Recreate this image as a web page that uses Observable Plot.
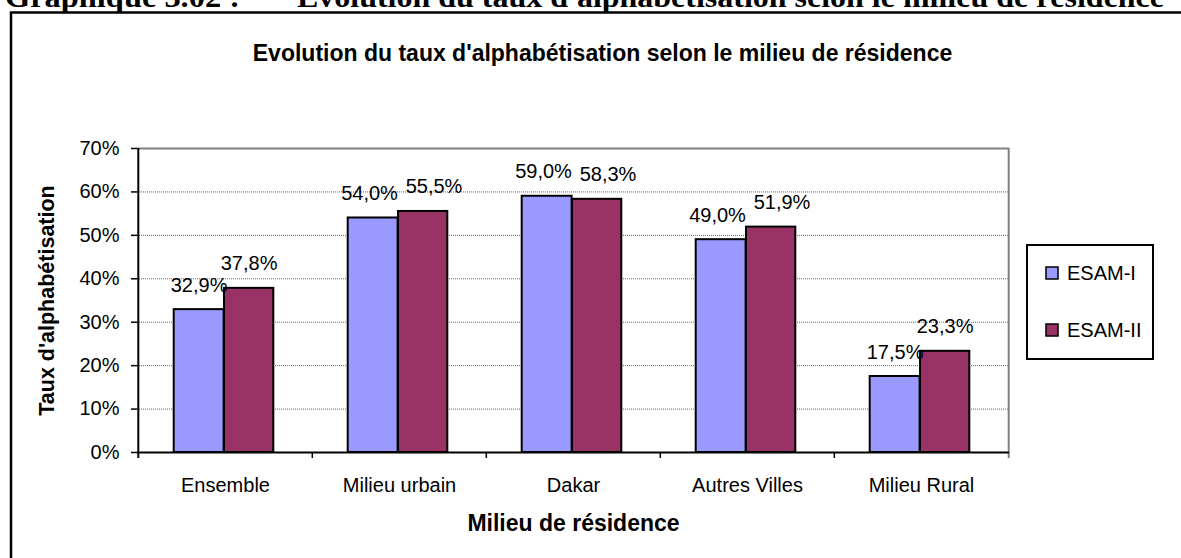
<!DOCTYPE html>
<html>
<head>
<meta charset="utf-8">
<script src="https://cdn.jsdelivr.net/npm/d3@7"></script>
<script src="https://cdn.jsdelivr.net/npm/@observablehq/plot@0.6"></script>
<style>
  html, body { margin: 0; padding: 0; background: #fff; }
  #chart svg { display: block; }
</style>
</head>
<body>
<div id="chart"></div>
<script>
// ---- data ----
const categories = ["Ensemble", "Milieu urbain", "Dakar", "Autres Villes", "Milieu Rural"];
const series = ["ESAM-I", "ESAM-II"];
const esam1 = [32.9, 54.0, 59.0, 49.0, 17.5];
const esam2 = [37.8, 55.5, 58.3, 51.9, 23.3];
const yTicks = [0, 10, 20, 30, 40, 50, 60, 70];
const colors = ["#9999FF", "#993366"];
const headerLabel = "Graphique 3.02 :";
const headerText = "Evolution du taux d'alphabétisation selon le milieu de résidence";
const chartTitle = "Evolution du taux d'alphabétisation selon le milieu de résidence";
const yTitle = "Taux d'alphabétisation";
const xTitle = "Milieu de résidence";

const data = categories.flatMap((c, i) => [
  {cat: c, series: series[0], v: esam1[i], close: Math.abs(esam1[i] - esam2[i]) < 4},
  {cat: c, series: series[1], v: esam2[i], close: Math.abs(esam1[i] - esam2[i]) < 4}
]);
const fmt = v => v.toFixed(1).replace(".", ",") + "%";

// ---- layout ----
const W = 1181, H = 558;
const mL = 137, mR = 172, mT = 148, mB = 106;
const bw = (W - mL - mR) / categories.length;
const font = "'Liberation Sans', Arial, Helvetica, sans-serif";

const s0 = data.filter(d => d.series === series[0]);
const s1 = data.filter(d => d.series === series[1]);
// labels of bars of similar height are nudged apart (as the spreadsheet does)
const labelStyle = {x: "cat", y: "v", text: d => fmt(d.v), dy: -18, lineAnchor: "bottom", fontSize: 20, fill: "black"};

const chart = Plot.plot({
  width: W, height: H,
  marginLeft: mL, marginRight: mR, marginTop: mT, marginBottom: mB,
  style: {fontFamily: font, fontSize: "20px", background: "white", color: "black", overflow: "visible"},
  x: {domain: categories, padding: 0, label: null},
  y: {domain: [0, 70], label: null},
  color: {domain: series, range: colors},
  marks: [
    // dotted gridlines
    Plot.ruleY(yTicks.filter(t => t > 0 && t < 70), {stroke: "#666", strokeWidth: 1, strokeDasharray: "1,1"}),
    // plot-area top/right border (gray)
    Plot.ruleY([70], {stroke: "#808080", strokeWidth: 2}),
    Plot.ruleX([categories[categories.length - 1]], {dx: bw / 2, y1: 0, y2: 70, insetTop: 6, stroke: "#808080", strokeWidth: 2}),
    // bars
    Plot.barY(s0, {x: "cat", y: "v", fill: "series", stroke: "black", strokeWidth: 2, insetLeft: 35.7, insetRight: bw - 86}),
    Plot.barY(s1, {x: "cat", y: "v", fill: "series", stroke: "black", strokeWidth: 2, insetLeft: 86, insetRight: bw - 135.7}),
    // axes lines
    Plot.ruleY([0], {stroke: "black", strokeWidth: 2}),
    Plot.ruleX([categories[0]], {dx: -bw / 2, y1: 0, y2: 70, insetTop: 6, stroke: "black", strokeWidth: 2}),
    // category boundary ticks
    Plot.ruleX(categories.slice(1), {dx: -bw / 2, y1: 0, y2: 0, insetTop: 6, stroke: "black", strokeWidth: 1.5}),
    Plot.axisY({ticks: yTicks, tickFormat: d => d + "%", tickSize: 6, tickPadding: 12, fontSize: 20, label: null, strokeWidth: 1.5}),
    Plot.axisX({tickSize: 0, tickPadding: 25, fontSize: 20, label: null}),
    // value labels
    Plot.text(s0.filter(d => !d.close), {...labelStyle, dx: -26.4}),
    Plot.text(s0.filter(d => d.close), {...labelStyle, dx: -30}),
    Plot.text(s1.filter(d => !d.close), {...labelStyle, dx: 23.6}),
    Plot.text(s1.filter(d => d.close), {...labelStyle, dx: 34.5}),
    // titles
    Plot.text([chartTitle], {text: d => d, frameAnchor: "top", textAnchor: "middle", dx: 29, dy: -95, lineAnchor: "middle", fontSize: 23, fontWeight: "bold", fill: "black"}),
    Plot.text([yTitle], {text: d => d, frameAnchor: "left", textAnchor: "middle", dx: -90, rotate: -90, lineAnchor: "middle", fontSize: 21.5, fontWeight: "bold", fill: "black"}),
    Plot.text([xTitle], {text: d => d, frameAnchor: "bottom", textAnchor: "middle", dy: 71, lineAnchor: "middle", fontSize: 23, fontWeight: "bold", fill: "black"})
  ]
});

document.getElementById("chart").appendChild(chart);

// ---- decorations: outer frame, page header, legend ----
const svg = d3.select(chart);
svg.append("path")
  .attr("d", `M11,${H + 10}V12.5H${W + 10}`)
  .attr("fill", "none").attr("stroke", "black").attr("stroke-width", 2.5);

const serif = "'Liberation Serif', 'Times New Roman', serif";
svg.append("text").text(headerLabel)
  .attr("x", 5).attr("y", 7).attr("text-anchor", "start")
  .attr("font-family", serif).attr("font-weight", "bold").attr("font-size", 30)
  .attr("textLength", 235).attr("lengthAdjust", "spacingAndGlyphs");
svg.append("text").text(headerText)
  .attr("x", 297).attr("y", 7).attr("text-anchor", "start")
  .attr("font-family", serif).attr("font-weight", "bold").attr("font-size", 30)
  .attr("textLength", 867).attr("lengthAdjust", "spacingAndGlyphs");

const color = chart.scale("color");
const leg = svg.append("g");
leg.append("rect")
  .attr("x", 1027).attr("y", 245).attr("width", 126).attr("height", 114)
  .attr("fill", "white").attr("stroke", "black").attr("stroke-width", 2);
series.forEach((s, i) => {
  const cy = 273 + i * 57;
  leg.append("rect")
    .attr("x", 1046).attr("y", cy - 6).attr("width", 12).attr("height", 12)
    .attr("fill", color.apply(s)).attr("stroke", "black").attr("stroke-width", 1.5);
  leg.append("text").text(s)
    .attr("x", 1067).attr("y", cy).attr("dy", "0.35em").attr("text-anchor", "start")
    .attr("font-family", font).attr("font-size", 20).attr("fill", "black");
});
</script>
</body>
</html>
